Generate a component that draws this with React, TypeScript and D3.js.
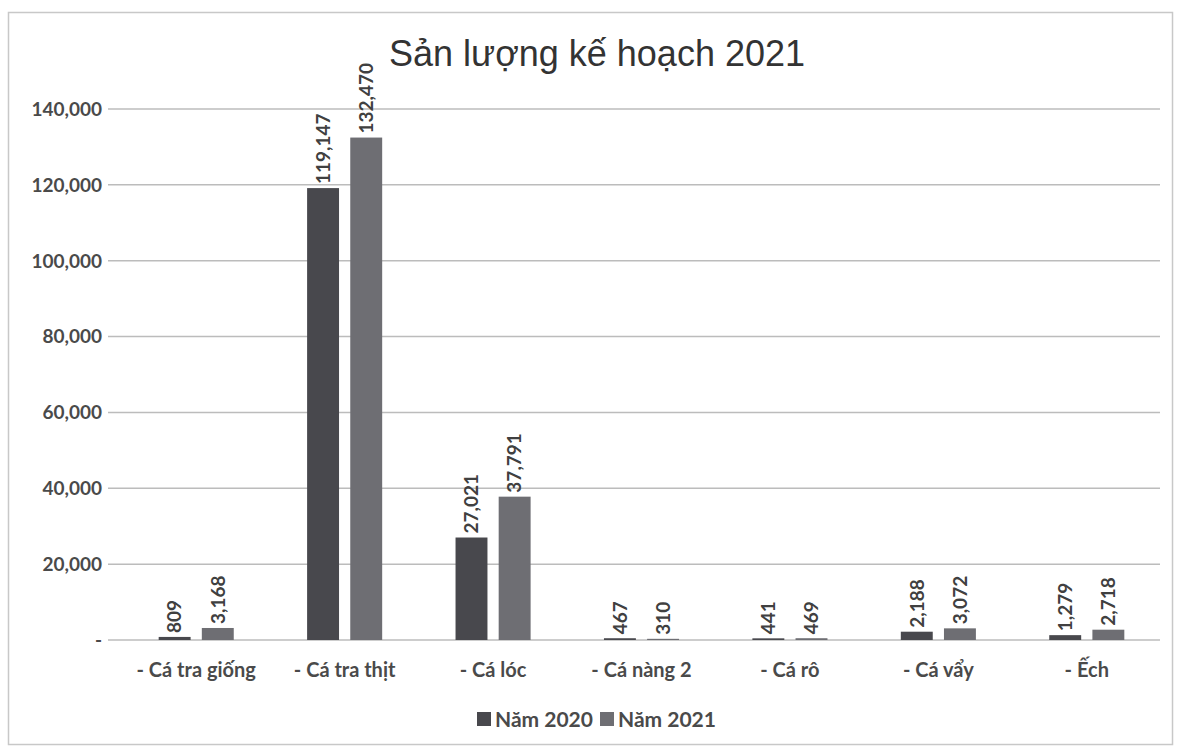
import { useEffect, useRef } from "react";
import * as d3 from "d3";

// values
const categories = [
  "- Cá tra giống",
  "- Cá tra thịt",
  "- Cá lóc",
  "- Cá nàng 2",
  "- Cá rô",
  "- Cá vẩy",
  "- Ếch",
];
const series = ["Năm 2020", "Năm 2021"];
const values2020 = [809, 119147, 27021, 467, 441, 2188, 1279];
const values2021 = [3168, 132470, 37791, 310, 469, 3072, 2718];
const yTicks = [0, 20000, 40000, 60000, 80000, 100000, 120000, 140000];

const COLORS = ["#48484d", "#6e6e73"];
const W = 1180;
const H = 750;
const FONT = "Lato, 'Open Sans', sans-serif";

export default function App() {
  const svgRef = useRef<SVGSVGElement>(null);

  useEffect(() => {
    if (!svgRef.current) return;
    const svg = d3.select(svgRef.current);
    svg.selectAll("*").remove();

    const plot = { left: 122, right: 1161, top: 109, bottom: 640 };

    svg.append("rect").attr("width", W).attr("height", H).attr("fill", "#fff");

    // chart frame
    svg
      .append("rect")
      .attr("x", 8.5)
      .attr("y", 12.5)
      .attr("width", W - 16)
      .attr("height", H - 18)
      .attr("fill", "none")
      .attr("stroke", "#c8c8c8")
      .attr("stroke-width", 1.5);

    const x0 = d3
      .scaleBand<string>()
      .domain(categories)
      .range([plot.left, plot.right]);

    // two bars ~32px wide, ~11px apart
    const x1 = d3
      .scaleBand<string>()
      .domain(series)
      .range([0, x0.bandwidth()])
      .paddingInner(0.26)
      .paddingOuter(0.85);

    const y = d3.scaleLinear().domain([0, 140000]).range([plot.bottom, plot.top]);

    // gridlines
    svg
      .append("g")
      .selectAll("line")
      .data(yTicks)
      .enter()
      .append("line")
      .attr("x1", 108)
      .attr("x2", 1160)
      .attr("y1", (d) => y(d))
      .attr("y2", (d) => y(d))
      .attr("stroke", "#bcbcbc")
      .attr("stroke-width", 1.5);

    // y labels
    const fmt = d3.format(",");
    svg
      .append("g")
      .selectAll("text")
      .data(yTicks)
      .enter()
      .append("text")
      .attr("x", 102)
      .attr("y", (d) => y(d))
      .attr("dy", "0.36em")
      .attr("text-anchor", "end")
      .attr("font-family", FONT)
      .attr("font-weight", 700)
      .attr("font-size", 19)
      .attr("fill", "#4a4a4a")
      .text((d) => (d === 0 ? "-" : fmt(d)));

    // bars
    const rows = categories.map((c, i) => ({
      cat: c,
      vals: [values2020[i], values2021[i]],
    }));

    const grp = svg
      .append("g")
      .selectAll("g")
      .data(rows)
      .enter()
      .append("g")
      .attr("transform", (d) => `translate(${x0(d.cat)},0)`);

    grp
      .selectAll("rect")
      .data((d) => d.vals.map((v, k) => ({ v, k })))
      .enter()
      .append("rect")
      .attr("x", (d) => x1(series[d.k])!)
      .attr("width", x1.bandwidth())
      .attr("y", (d) => y(d.v))
      .attr("height", (d) => y(0) - y(d.v))
      .attr("fill", (d) => COLORS[d.k]);

    // data labels, rotated
    grp
      .selectAll("text")
      .data((d) => d.vals.map((v, k) => ({ v, k })))
      .enter()
      .append("text")
      .attr("transform", (d) => {
        const cx = x1(series[d.k])! + x1.bandwidth() / 2;
        return `translate(${cx},${y(d.v) - 4}) rotate(-90)`;
      })
      .attr("dy", "0.36em")
      .attr("text-anchor", "start")
      .attr("font-family", FONT)
      .attr("font-weight", 700)
      .attr("font-size", 19)
      .attr("fill", "#404040")
      .text((d) => fmt(d.v));

    // category labels
    svg
      .append("g")
      .selectAll("text")
      .data(categories)
      .enter()
      .append("text")
      .attr("x", (d) => x0(d)! + x0.bandwidth() / 2)
      .attr("y", 677)
      .attr("text-anchor", "middle")
      .attr("font-family", FONT)
      .attr("font-weight", 700)
      .attr("font-size", 20)
      .attr("fill", "#4a4a4a")
      .text((d) => d);

    // title
    svg
      .append("text")
      .attr("x", 597)
      .attr("y", 66)
      .attr("text-anchor", "middle")
      .attr("font-family", "'Liberation Sans', Arial, sans-serif")
      .attr("font-size", 36)
      .attr("fill", "#333")
      .text("Sản lượng kế hoạch 2021");

    // legend
    const legend = svg.append("g").attr("transform", "translate(477,719)");
    const items = [
      { label: series[0], x: 0 },
      { label: series[1], x: 123 },
    ];
    items.forEach((it, k) => {
      legend
        .append("rect")
        .attr("x", it.x)
        .attr("y", -7)
        .attr("width", 14)
        .attr("height", 14)
        .attr("fill", COLORS[k]);
      legend
        .append("text")
        .attr("x", it.x + 18)
        .attr("y", 0)
        .attr("dy", "0.36em")
        .attr("font-family", FONT)
        .attr("font-weight", 700)
        .attr("font-size", 21)
        .attr("fill", "#4a4a4a")
        .text(it.label);
    });
  }, []);

  return (
    <svg
      ref={svgRef}
      width={W}
      height={H}
      style={{ position: "absolute", left: 0, top: 0, display: "block" }}
    />
  );
}
